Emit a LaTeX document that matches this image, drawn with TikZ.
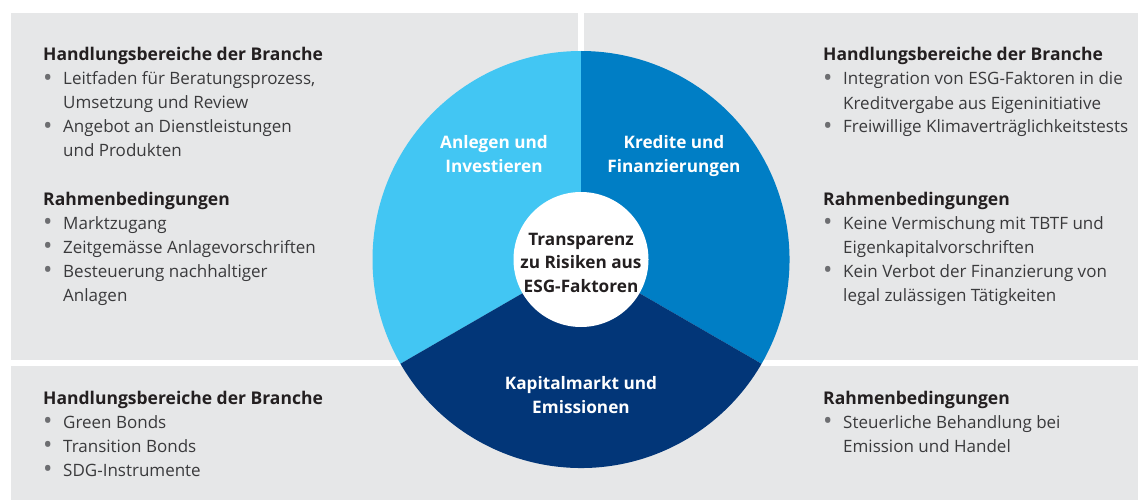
\documentclass[tikz,border=0pt]{standalone}
\usepackage{fontspec}
\setmainfont{Open Sans}
\usepackage{xcolor}
\usepackage{tikz}

\definecolor{panelgrey}{RGB}{230,231,232}
\definecolor{skyblue}{RGB}{66,198,243}
\definecolor{midblue}{RGB}{0,126,197}
\definecolor{darkblue}{RGB}{2,54,120}
\definecolor{txtgrey}{RGB}{58,58,60}
\definecolor{dotgrey}{RGB}{109,110,113}

\newcommand{\itm}{\makebox[20pt][l]{\raisebox{-1.5pt}{\textcolor{dotgrey}{\fontsize{25}{24}\selectfont\textbullet}}}}
\newcommand{\cnt}{\hspace*{20pt}}
\newcommand{\hd}[1]{{\fontsize{17.5}{24}\selectfont\bfseries\color[RGB]{35,31,32}#1}}

\begin{document}
\begin{tikzpicture}[x=1pt,y=1pt,yscale=-1,xscale=1,
        panel/.style={fill=panelgrey},
        block/.style={anchor=base west,inner sep=0pt,align=left,text=txtgrey,
            font=\fontsize{17}{24}\selectfont},
        seglabel/.style={anchor=base,inner sep=0pt,align=center,text=white,
            font=\fontsize{17.2}{24.5}\selectfont\bfseries}]
        \useasboundingbox (0,0) rectangle (1138,500);
        % background panels
        \fill [panel] (11,13) rectangle (578,360);
        \fill [panel] (584,13) rectangle (1138,360);
        \fill [panel] (11,366) rectangle (1138,500);

        % pie (angles flipped because of yscale=-1)
        \coordinate (ctr) at (581,259.5);
        \fill [skyblue] (ctr) -- ++(-90:208.5) arc [start angle=-90, end angle=-210, radius=208.5] -- cycle;
        \fill [midblue] (ctr) -- ++(30:208.5) arc [start angle=30, end angle=-90, radius=208.5] -- cycle;
        \fill [darkblue] (ctr) -- ++(150:208.5) arc [start angle=150, end angle=30, radius=208.5] -- cycle;
        \fill [white] (ctr) circle [radius=67.5];

        % multi-line nodes: base = baseline of the last line
        \node (center) at (581,292) [seglabel,text={rgb,255:red,35;green,31;blue,32},
            font=\fontsize{17.2}{23.5}\selectfont\bfseries] {Transparenz\\zu Risiken aus\\ESG-Faktoren};
        \node (anlegen) at (494,172.5) [seglabel] {Anlegen und\\Investieren};
        \node (kredite) at (674,172.5) [seglabel] {Kredite und\\Finanzierungen};
        \node (kapital) at (581,413.5) [seglabel] {Kapitalmarkt und\\Emissionen};

        % top left
        \node (tlBranche) at (43,157) [block] {\hd{Handlungsbereiche der Branche}\\
            \itm Leitfaden für Beratungsprozess,\\
            \cnt Umsetzung und Review\\
            \itm Angebot an Dienstleistungen\\
            \cnt und Produkten};
        \node (tlRahmen) at (43,301) [block] {\hd{Rahmenbedingungen}\\
            \itm Marktzugang\\
            \itm Zeitgemässe Anlagevorschriften\\
            \itm Besteuerung nachhaltiger\\
            \cnt Anlagen};

        % top right
        \node (trBranche) at (823,133) [block] {\hd{Handlungsbereiche der Branche}\\
            \itm Integration von ESG-Faktoren in die\\
            \cnt Kreditvergabe aus Eigeninitiative\\
            \itm Freiwillige Klimaverträglichkeitstests};
        \node (trRahmen) at (823,301) [block] {\hd{Rahmenbedingungen}\\
            \itm Keine Vermischung mit TBTF und\\
            \cnt Eigenkapitalvorschriften\\
            \itm Kein Verbot der Finanzierung von\\
            \cnt legal zulässigen Tätigkeiten};

        % bottom
        \node (blBranche) at (43,476) [block] {\hd{Handlungsbereiche der Branche}\\
            \itm Green Bonds\\
            \itm Transition Bonds\\
            \itm SDG-Instrumente};
        \node (brRahmen) at (823,452) [block] {\hd{Rahmenbedingungen}\\
            \itm Steuerliche Behandlung bei\\
            \cnt Emission und Handel};
\end{tikzpicture}
\end{document}
